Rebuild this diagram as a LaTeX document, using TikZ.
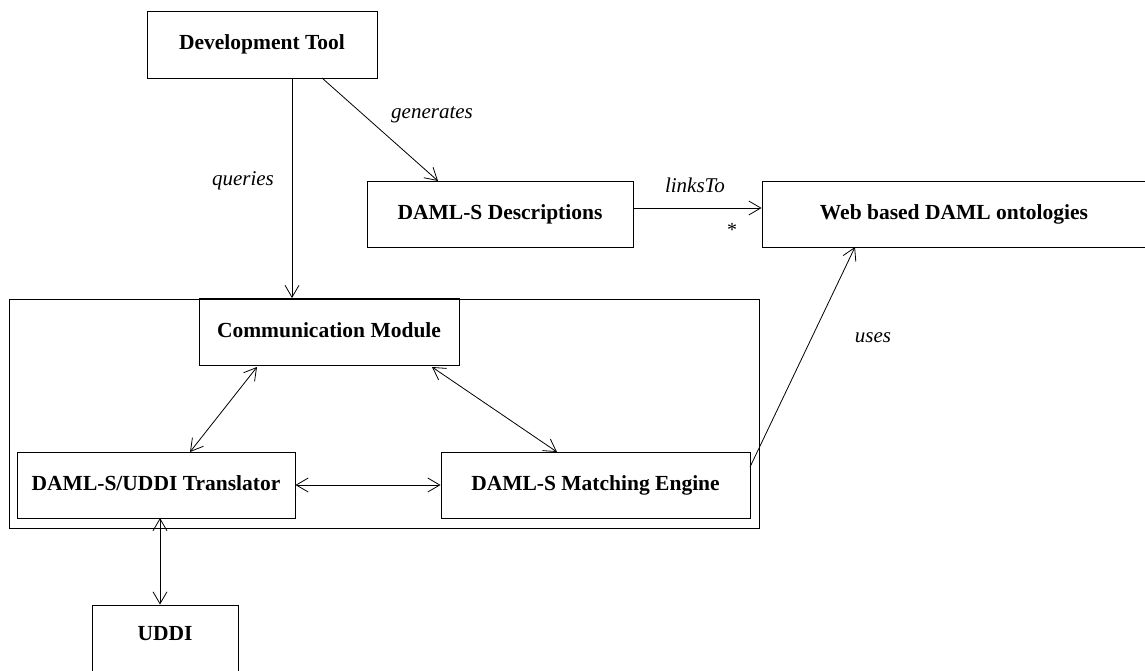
\documentclass[tikz,border=0pt]{standalone}
\usepackage{fontspec}
\setmainfont{Liberation Serif}
\usetikzlibrary{arrows.meta}
\tikzset{
  box/.style={draw, line width=0.9pt, rectangle, inner sep=0pt,
    text height=14pt, text depth=4pt,
    font=\fontsize{21.5}{24}\selectfont\bfseries},
  lbl/.style={inner sep=0pt, font=\fontsize{21}{24}\selectfont\itshape},
  tip/.style={Straight Barb[length=12pt,width=14pt]},
  link/.style={line width=0.8pt, -{Straight Barb[length=12pt,width=14pt]}},
  both/.style={line width=0.8pt, {Straight Barb[length=12pt,width=14pt]}-{Straight Barb[length=12pt,width=14pt]}},
}
\begin{document}
\begin{tikzpicture}[x=1pt,y=-1pt]
  \clip (0,0) rectangle (1145,671);
  \fill[white] (0,0) rectangle (1145,671);

  % outer frame around the broker components
  \node[box, minimum width=750, minimum height=229] (frame) at (384,413.5) {};

  \node[box, minimum width=230, minimum height=67] (dev) at (262,44.5) {Development Tool};
  \node[box, minimum width=266, minimum height=66] (desc) at (500,214) {DAML-S Descriptions};
  \node[box, minimum width=384, minimum height=66] (web) at (954,214) {Web based DAML ontologies};
  \node[box, minimum width=260, minimum height=67] (comm) at (329,332) {Communication Module};
  \node[box, minimum width=278, minimum height=66] (trans) at (156,485) {DAML-S/UDDI Translator};
  \node[box, minimum width=309, minimum height=66] (match) at (595.5,485) {DAML-S Matching Engine};
  \node[box, minimum width=146, minimum height=72] (uddi) at (165,641) {\raisebox{6pt}{UDDI}};

  % connectors
  \coordinate (devq) at (292,78);
  \draw[link] (devq) -- (devq |- comm.north);
  \node[lbl] (lq) at (243,181) {queries};
  \coordinate (devg) at (322,78);
  \coordinate (descg) at (438,181);
  \draw[link] (devg) -- (descg);
  \node[lbl] (lg) at (432,115) {generates};
  \coordinate (descl) at (633,208);
  \draw[link] (descl) -- (descl -| web.west);
  \node[lbl] (ll) at (695,185) {linksTo};
  \node[inner sep=0pt, font=\fontsize{20}{22}\selectfont] (mult) at (732,230) {*};
  \coordinate (commL) at (257,367);
  \coordinate (transT) at (190,452);
  \draw[both] (commL) -- (transT);
  \coordinate (commR) at (432,367);
  \coordinate (matchT) at (557,452);
  \draw[both] (commR) -- (matchT);
  \draw[both] (trans.east) -- (match.west);
  \coordinate (transB) at (160,518);
  \draw[both] (transB) -- (transB |- uddi.north);
  \coordinate (matchR) at (750,467);
  \coordinate (webB) at (855,247);
  \draw[link] (matchR) -- (webB);
  \node[lbl] (lu) at (873,338) {uses};
\end{tikzpicture}
\end{document}
